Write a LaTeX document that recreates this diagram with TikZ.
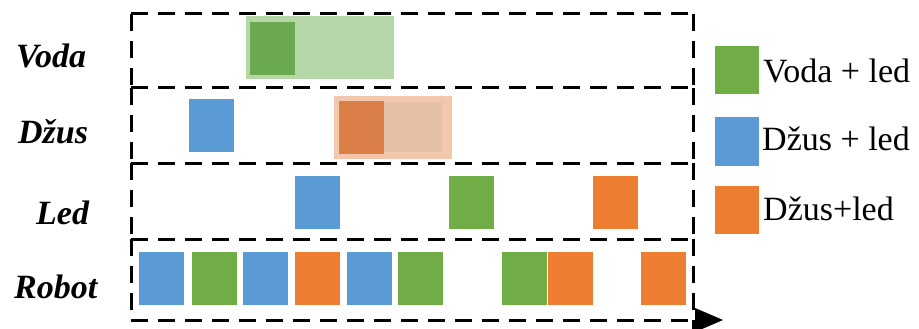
\documentclass[tikz,border=0pt]{standalone}
\usepackage{fontspec}
\usetikzlibrary{calc}
\setmainfont{Liberation Serif}
\definecolor{cgreen}{HTML}{70AD47}
\definecolor{cblue}{HTML}{5B9BD5}
\definecolor{corange}{HTML}{ED7D31}
\definecolor{lgreen}{HTML}{B5D6A6}
\definecolor{dgreen}{HTML}{6AA94F}
\definecolor{lorange}{HTML}{F3C7AB}
\definecolor{morange}{HTML}{E5BFA6}
\definecolor{dorange}{HTML}{DA7F47}
\begin{document}
\begin{tikzpicture}[x=1pt,y=-1pt,
  frame/.style={line width=3pt,dash pattern=on 17pt off 10pt},
  blk/.style={rectangle,inner sep=0pt,minimum width=45pt,minimum height=53pt,anchor=north west,draw=none},
  lbl/.style={anchor=base west,inner sep=0pt,font=\fontsize{34}{40}\selectfont\bfseries\itshape},
  leg/.style={anchor=base west,inner sep=0pt,font=\fontsize{34}{40}\selectfont}]
\useasboundingbox (0,0) rectangle (919,329);
% glow-ish highlight boxes
\node[rectangle,inner sep=0pt,minimum width=148pt,minimum height=63pt,anchor=north west,fill=lgreen] (hv) at (246,16) {};
\node[rectangle,inner sep=0pt,minimum width=118pt,minimum height=63pt,anchor=north west,fill=lorange] (hd) at (334,96) {};
\node[rectangle,inner sep=0pt,minimum width=58pt,minimum height=50pt,anchor=north west,fill=morange] (hdm) at (384,102) {};
% frame coordinates
\coordinate (tl) at (131,14);
\coordinate (tr) at (693,14);
\coordinate (l1) at (131,88);
\coordinate (r1) at (693,88);
\coordinate (l2) at (131,163);
\coordinate (r2) at (693,163);
\coordinate (l3) at (131,239);
\coordinate (r3) at (693,239);
\coordinate (bl) at (131,320);
\coordinate (br) at (693,320);
\coordinate (brb) at (693,329);
\coordinate (tip) at (723,320);
\draw[frame] (tl) -- (tr);
\draw[frame] (l1) -- (r1);
\draw[frame] (l2) -- (r2);
\draw[frame] (l3) -- (r3);
\draw[frame] (bl) -- (br);
\draw[frame] (tl) -- (l1);
\draw[frame] (l1) -- (l2);
\draw[frame] (l2) -- (l3);
\draw[frame] (l3) -- (bl);
\draw[frame] (tr) -- (r1);
\draw[frame] (r1) -- (r2);
\draw[frame] (r2) -- (r3);
\draw[frame] (r3) -- (brb);
\fill ($(br)+(2,-12)$) -- (tip) -- ($(br)+(2,12)$) -- cycle;
% labels
\node[lbl] (tvoda) at (16,67) {Voda};
\node[lbl] (tdzus) at (18,143) {Džus};
\node[lbl] (tled) at (36,224) {Led};
\node[lbl] (trobot) at (14,298) {Robot};
% Voda row
\node[blk,fill=dgreen] (v1) at (250,22) {};
% Dzus row
\node[blk,fill=cblue] (d1) at (189,99) {};
\node[blk,fill=dorange] (d2) at (339,101) {};
% Led row
\node[blk,fill=cblue] (e1) at (295,176) {};
\node[blk,fill=cgreen] (e2) at (449,176) {};
\node[blk,fill=corange] (e3) at (593,176) {};
% Robot row
\node[blk,fill=cblue] (r01) at (139,252) {};
\node[blk,fill=cgreen] (r02) at (192,252) {};
\node[blk,fill=cblue] (r03) at (243,252) {};
\node[blk,fill=corange] (r04) at (295,252) {};
\node[blk,fill=cblue] (r05) at (347,252) {};
\node[blk,fill=cgreen] (r06) at (398,252) {};
\node[blk,fill=cgreen] (r07) at (502,252) {};
\node[blk,fill=corange] (r08) at (548,252) {};
\node[blk,fill=corange] (r09) at (641,252) {};
% legend
\node[blk,minimum width=44pt,minimum height=48pt,fill=cgreen] (lg1) at (715,46) {};
\node[blk,minimum width=44pt,minimum height=49pt,fill=cblue] (lg2) at (715,117) {};
\node[blk,minimum width=44pt,minimum height=48pt,fill=corange] (lg3) at (715,186) {};
\node[leg] (lt1) at (763,82) {Voda + led};
\node[leg] (lt2) at (762,150) {Džus + led};
\node[leg] (lt3) at (763,220) {Džus+led};
\end{tikzpicture}
\end{document}
